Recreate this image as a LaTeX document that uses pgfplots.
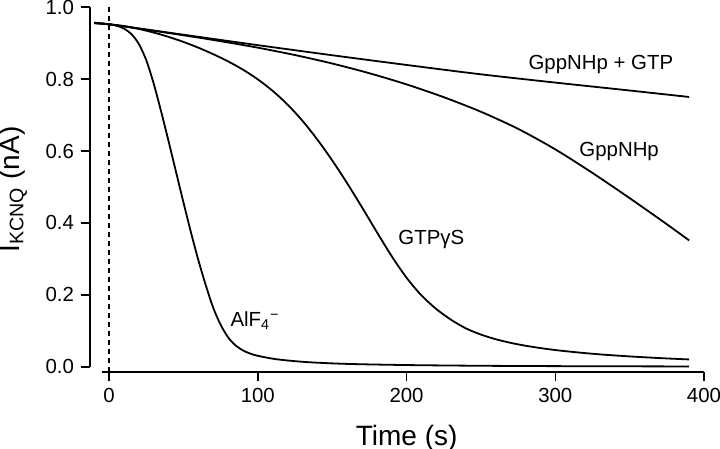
\documentclass[border=0pt]{standalone}
\usepackage{pgfplots}
\pgfplotsset{compat=1.18}
\usepackage{fontspec}
\setmainfont{Liberation Sans}
\begin{document}
\begin{tikzpicture}
\begin{axis}[
  name=ax,
  scale only axis,
  width=307pt, height=182.5pt,
  xmin=-12.8, xmax=400, ymin=-0.014, ymax=1.0,
  axis x line=bottom, axis y line=left,
  axis line style={draw=none},
  xtick={0,100,200,300,400},
  ytick={0,0.2,0.4,0.6,0.8,1.0},
  yticklabel style={/pgf/number format/.cd,fixed,fixed zerofill,precision=1},
  /pgf/number format/assume math mode=true,
  tick align=outside,
  major tick length=4.5pt,
  tick style={black, line width=0.75pt},
  tick label style={font=\fontsize{10.2}{12}\selectfont},
  xlabel={Time (s)},
  ylabel={I\textsubscript{KCNQ} (nA)},
  label style={font=\fontsize{14}{16}\selectfont},
  xlabel style={at={(axis description cs:0.5157,0)}, anchor=base, yshift=-36.5pt},
  ylabel style={at={(axis description cs:-0.1254,0.5)}, anchor=center, inner sep=0pt},
  clip=false,
]
% axis spines
\draw[line width=0.75pt] (axis cs:-4.7,-0.014) -- (axis cs:400,-0.014);
\draw[line width=0.75pt] (axis cs:-12.8,0) -- (axis cs:-12.8,1.0);
% dashed marker at t=0
\addplot[black, line width=0.8pt, dash pattern=on 2.5pt off 2pt] coordinates {(0,-0.014) (0,1.0)};
% GppNHp + GTP
\addplot[black, line width=0.9pt, smooth] coordinates {
(-10,0.956) (0,0.952) (50,0.923) (100,0.894) (150,0.866) (200,0.839)
(250,0.813) (300,0.790) (350,0.768) (390,0.750)};
% GppNHp
\addplot[black, line width=0.9pt, smooth] coordinates {
(-10,0.956) (0,0.952) (25,0.937) (50,0.9215) (75,0.905) (100,0.887) (125,0.8665)
(150,0.843) (175,0.816) (200,0.785) (225,0.7495) (250,0.709) (275,0.6615)
(300,0.6045) (325,0.539) (350,0.469) (375,0.3965) (390,0.3515)};
% GTPgammaS
\addplot[black, line width=0.9pt, smooth] coordinates {
(-10,0.955) (0,0.952) (10,0.947) (20,0.939) (30,0.929) (40,0.917) (50,0.903)
(60,0.887) (70,0.869) (80,0.849) (90,0.826) (100,0.799) (110,0.767) (120,0.729)
(130,0.684) (140,0.632) (150,0.574) (160,0.511) (170,0.444) (180,0.375) (190,0.308)
(200,0.248) (210,0.199) (220,0.161) (230,0.131) (240,0.107) (250,0.090) (260,0.077)
(270,0.067) (280,0.059) (290,0.0525) (300,0.047) (310,0.0425) (320,0.0385)
(330,0.035) (340,0.032) (350,0.0293) (360,0.0269) (370,0.0247) (380,0.0227) (390,0.0209)};
% AlF4-
\addplot[black, line width=0.9pt, smooth] coordinates {
(-10,0.955) (0,0.952) (5,0.948) (10,0.940) (15,0.925) (20,0.8975) (25,0.8525)
(30,0.7875) (35,0.710) (40,0.6275) (45,0.5425) (50,0.4575) (55,0.375) (60,0.2975)
(65,0.2275) (70,0.165) (75,0.1175) (80,0.0825) (85,0.060) (90,0.046) (95,0.037)
(100,0.031) (110,0.023) (120,0.018) (135,0.013) (160,0.0085) (200,0.0053)
(250,0.0033) (300,0.0023) (390,0.0014)};
% labels
\node[anchor=base west, inner sep=0pt, font=\fontsize{10.2}{12}\selectfont] at (axis cs:281.8,0.825) {GppNHp + GTP};
\node[anchor=base west, inner sep=0pt, font=\fontsize{10.2}{12}\selectfont] at (axis cs:316,0.584) {GppNHp};
\node[anchor=base west, inner sep=0pt, font=\fontsize{10.2}{12}\selectfont] at (axis cs:194.3,0.339) {GTPγS};
\node[anchor=base west, inner sep=0pt, font=\fontsize{10.2}{12}\selectfont] at (axis cs:81.4,0.112) {AlF\textsubscript{4}\textsuperscript{−}};
\end{axis}
\pgfresetboundingbox
\path ([shift={(-45pt,-38pt)}]ax.south west) rectangle ([shift={(8pt,3.5pt)}]ax.north east);
\end{tikzpicture}
\end{document}
